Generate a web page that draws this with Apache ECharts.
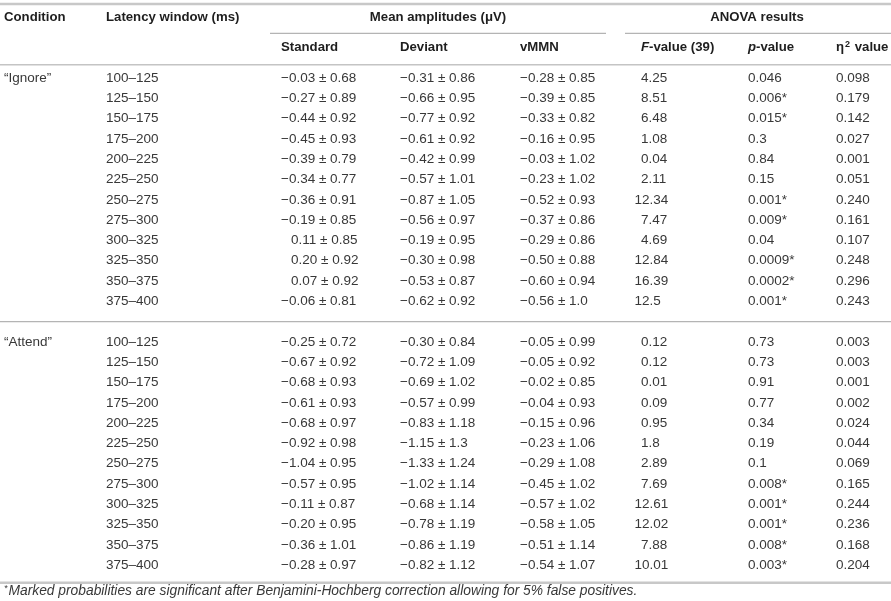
<!DOCTYPE html>
<html>
<head>
<meta charset="utf-8">
<title>Mean amplitudes and ANOVA results</title>
<script src="https://cdn.jsdelivr.net/npm/echarts@6/dist/echarts.min.js"></script>
<style>
  html, body { margin: 0; padding: 0; background: #fff; }
  #chart { width: 891px; height: 601px; }
</style>
</head>
<body>
<div id="chart"></div>
<script>
// ---- table values ----
const conditions = ['\u201cIgnore\u201d', '\u201cAttend\u201d'];
const latencyWindows = ['100–125', '125–150', '150–175', '175–200', '200–225', '225–250',
  '250–275', '275–300', '300–325', '325–350', '350–375', '375–400'];

// mean ± sd, as printed
const ignoreStandard = ['-0.03|0.68', '-0.27|0.89', '-0.44|0.92', '-0.45|0.93', '-0.39|0.79', '-0.34|0.77',
  '-0.36|0.91', '-0.19|0.85', '0.11|0.85', '0.20|0.92', '0.07|0.92', '-0.06|0.81'];
const ignoreDeviant = ['-0.31|0.86', '-0.66|0.95', '-0.77|0.92', '-0.61|0.92', '-0.42|0.99', '-0.57|1.01',
  '-0.87|1.05', '-0.56|0.97', '-0.19|0.95', '-0.30|0.98', '-0.53|0.87', '-0.62|0.92'];
const ignoreVMMN = ['-0.28|0.85', '-0.39|0.85', '-0.33|0.82', '-0.16|0.95', '-0.03|1.02', '-0.23|1.02',
  '-0.52|0.93', '-0.37|0.86', '-0.29|0.86', '-0.50|0.88', '-0.60|0.94', '-0.56|1.0'];
const ignoreF = ['4.25', '8.51', '6.48', '1.08', '0.04', '2.11', '12.34', '7.47', '4.69', '12.84', '16.39', '12.5'];
const ignoreP = ['0.046', '0.006*', '0.015*', '0.3', '0.84', '0.15', '0.001*', '0.009*', '0.04', '0.0009*', '0.0002*', '0.001*'];
const ignoreEta = ['0.098', '0.179', '0.142', '0.027', '0.001', '0.051', '0.240', '0.161', '0.107', '0.248', '0.296', '0.243'];

const attendStandard = ['-0.25|0.72', '-0.67|0.92', '-0.68|0.93', '-0.61|0.93', '-0.68|0.97', '-0.92|0.98',
  '-1.04|0.95', '-0.57|0.95', '-0.11|0.87', '-0.20|0.95', '-0.36|1.01', '-0.28|0.97'];
const attendDeviant = ['-0.30|0.84', '-0.72|1.09', '-0.69|1.02', '-0.57|0.99', '-0.83|1.18', '-1.15|1.3',
  '-1.33|1.24', '-1.02|1.14', '-0.68|1.14', '-0.78|1.19', '-0.86|1.19', '-0.82|1.12'];
const attendVMMN = ['-0.05|0.99', '-0.05|0.92', '-0.02|0.85', '-0.04|0.93', '-0.15|0.96', '-0.23|1.06',
  '-0.29|1.08', '-0.45|1.02', '-0.57|1.02', '-0.58|1.05', '-0.51|1.14', '-0.54|1.07'];
const attendF = ['0.12', '0.12', '0.01', '0.09', '0.95', '1.8', '2.89', '7.69', '12.61', '12.02', '7.88', '10.01'];
const attendP = ['0.73', '0.73', '0.91', '0.77', '0.34', '0.19', '0.1', '0.008*', '0.001*', '0.001*', '0.008*', '0.003*'];
const attendEta = ['0.003', '0.003', '0.001', '0.002', '0.024', '0.044', '0.069', '0.165', '0.244', '0.236', '0.168', '0.204'];

const footnote = 'Marked probabilities are significant after Benjamini-Hochberg correction allowing for 5% false positives.';

// ---- layout ----
const W = 891, H = 601;
const ROW = 20.3;          // row pitch (px)
const FIRST = 78;          // centre of the first body row (px)
const COL_X = [4, 106, 281, 400, 520, 641, 748, 836];
const FONT = "'Liberation Sans', Arial, sans-serif";
const BODY_SIZE = 13.5;
const TXT = '#383838';
const HEAD = '#1e1e1e';

// body rows: "Ignore" rows 0..11, "Attend" rows 13..24
const groups = [
  [ignoreStandard, ignoreDeviant, ignoreVMMN, ignoreF, ignoreP, ignoreEta],
  [attendStandard, attendDeviant, attendVMMN, attendF, attendP, attendEta]
];

const cells = [];
function cell(x, row, text, kind, extra) {
  cells.push(Object.assign({ x: x, row: row, text: text, kind: kind }, extra || {}));
}

// header row 1
cell(COL_X[0], -3, 'Condition', 'head');
cell(COL_X[1], -3, 'Latency window (ms)', 'head');
cell(438, -3, 'Mean amplitudes (\u03bcV)', 'head', { align: 'center' });
cell(757, -3, 'ANOVA results', 'head', { align: 'center' });
// header row 2
cell(COL_X[2], -1.5, 'Standard', 'head');
cell(COL_X[3], -1.5, 'Deviant', 'head');
cell(COL_X[4], -1.5, 'vMMN', 'head');
cell(COL_X[5], -1.5, '{i|F}{b|-value (39)}', 'rich');
cell(COL_X[6], -1.5, '{i|p}{b|-value}', 'rich');
cell(COL_X[7], -1.5, '{b|\u03b7}{s|2}{b| value}', 'rich');

groups.forEach(function (cols, g) {
  const base = g * 13;
  cell(COL_X[0], base, conditions[g], 'body');
  latencyWindows.forEach(function (lw, r) {
    const row = base + r;
    cell(COL_X[1], row, lw, 'body');
    [0, 1, 2].forEach(function (k) {
      const parts = cols[k][r].split('|');
      const neg = parts[0].charAt(0) === '-';
      const mean = neg ? '\u2212' + parts[0].slice(1) : parts[0];
      cell(COL_X[2 + k], row, mean + ' \u00b1 ' + parts[1], 'body', { dx: neg ? 0 : 10 });
    });
    const f = cols[3][r];
    cell(COL_X[5], row, f, 'body', { dx: parseFloat(f) >= 10 ? -6.5 : 0 });
    cell(COL_X[6], row, cols[4][r], 'body');
    cell(COL_X[7], row, cols[5][r], 'body');
  });
});

cell(COL_X[0], 25.3, '{s|*}{t|' + footnote + '}', 'foot');

// horizontal rules: [x1, x2, row, width, colour]
const rules = [
  [0, W, -3.65, 2.5, '#c8c8c8'],
  [270, 606, -2.2, 1.2, '#b4b4b4'],
  [625, W, -2.2, 1.2, '#b4b4b4'],
  [0, W, -0.65, 1.6, '#c4c4c4'],
  [0, W, 12.0, 1.2, '#b4b4b4'],
  [0, W, 24.87, 2.5, '#c8c8c8']
];

const chart = echarts.init(document.getElementById('chart'), null, { renderer: 'canvas' });

function textStyle(c) {
  const base = { text: c.text, fill: TXT, font: BODY_SIZE + 'px ' + FONT, align: c.align || 'left', verticalAlign: 'middle' };
  if (c.kind === 'head') {
    base.font = 'bold 13.2px ' + FONT;
    base.fill = HEAD;
  } else if (c.kind === 'rich') {
    base.fill = HEAD;
    base.rich = {
      b: { font: 'bold 13.2px ' + FONT, fill: HEAD, lineHeight: 16 },
      i: { font: 'italic bold 13.2px ' + FONT, fill: HEAD, lineHeight: 16 },
      s: { font: 'bold 9px ' + FONT, fill: HEAD, lineHeight: 16, verticalAlign: 'top', padding: [0, 1, 0, 1] }
    };
  } else if (c.kind === 'foot') {
    base.rich = {
      t: { font: 'italic 13.8px ' + FONT, fill: TXT, lineHeight: 16 },
      s: { font: 'italic 9px ' + FONT, fill: TXT, lineHeight: 16, verticalAlign: 'top', padding: [0, 1, 0, 0] }
    };
  }
  return base;
}

const option = {
  animation: false,
  grid: { left: 0, right: 0, top: 0, bottom: 0 },
  xAxis: { type: 'value', min: 0, max: W, show: false },
  yAxis: { type: 'value', inverse: true, min: -FIRST / ROW, max: (H - FIRST) / ROW, show: false },
  series: [
    {
      type: 'custom',
      silent: true,
      data: rules.map(function (r) { return [r[0], r[2], r[1]]; }),
      renderItem: function (params, api) {
        const r = rules[params.dataIndex];
        const p1 = api.coord([api.value(0), api.value(1)]);
        const p2 = api.coord([api.value(2), api.value(1)]);
        return {
          type: 'line',
          shape: { x1: p1[0], y1: p1[1], x2: p2[0], y2: p2[1] },
          style: { stroke: r[4], lineWidth: r[3] }
        };
      }
    },
    {
      type: 'custom',
      silent: true,
      data: cells.map(function (c) { return [c.x, c.row]; }),
      renderItem: function (params, api) {
        const c = cells[params.dataIndex];
        const pt = api.coord([api.value(0), api.value(1)]);
        return { type: 'text', x: pt[0] + (c.dx || 0), y: pt[1], style: textStyle(c) };
      }
    }
  ]
};
chart.setOption(option);
window.addEventListener('resize', () => chart.resize());
</script>
</body>
</html>
